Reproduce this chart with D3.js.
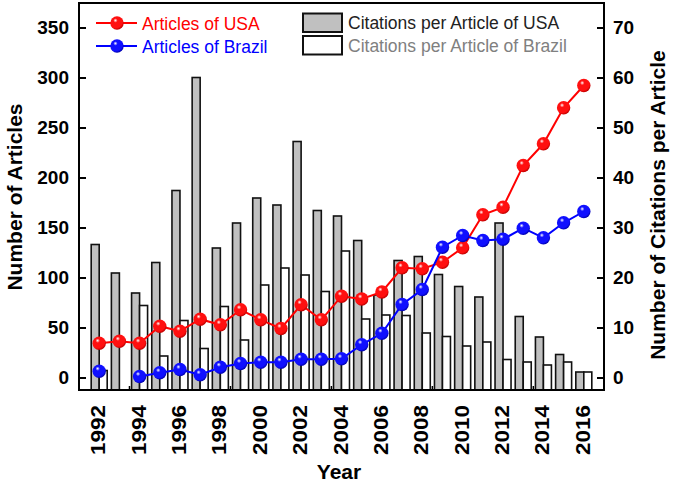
<!DOCTYPE html>
<html><head><meta charset="utf-8">
<script src="https://cdn.jsdelivr.net/npm/d3@7"></script>
<style>
body{margin:0;background:#fff;}
svg{display:block;font-family:"Liberation Sans",Arial,sans-serif;}
</style></head>
<body><svg id="chart" width="673" height="483"></svg>
<script>
const years = [1992,1993,1994,1995,1996,1997,1998,1999,2000,2001,2002,2003,2004,2005,2006,2007,2008,2009,2010,2011,2012,2013,2014,2015,2016];
const articlesUSA = [34.3,36.3,34.3,51.3,46.3,58.3,52.7,67.7,57.7,49,72.7,57.7,81.3,78.5,85.5,109.7,108.7,115.3,129.7,162.7,170.3,212,233.7,269.7,292];
const articlesBrazil = [6.3,null,1,4.7,8,2.7,10.3,14,15.3,15.3,18.3,18.3,18.7,32.8,44.2,73,88,130.3,142,137,138.3,149.3,139.7,154.7,166];
const citationsUSA = [26.6,20.9,16.9,23.0,37.4,60.0,25.9,30.9,35.9,34.5,47.2,33.4,32.3,27.4,16.5,23.4,24.2,20.6,18.2,16.1,30.9,12.2,8.1,4.6,1.1];
const citationsBrazil = [1.4,null,14.4,4.3,11.4,5.8,14.2,7.5,18.5,21.9,20.5,17.2,25.3,11.7,12.5,12.4,8.9,8.2,6.3,7.1,3.6,3.1,2.5,3.1,1.1];
const xTickYears = [1992,1994,1996,1998,2000,2002,2004,2006,2008,2010,2012,2014,2016];
const xInnerTicks = [1993.5,1998.5,2003.5,2008.5,2013.5];
const leftTicks = [0,50,100,150,200,250,300,350];
const rightTicks = [0,10,20,30,40,50,60,70];

const svg = d3.select("#chart");
const L = 79, R = 604, T = 3, B = 390;
const x = d3.scaleLinear().domain([1991, 2017]).range([L, R]);
const yL = d3.scaleLinear().domain([-12.5, 374.5]).range([B, T]);
const yR = d3.scaleLinear().domain([-2.5, 74.9]).range([B, T]);

const defs = svg.append("defs");
function ball(id, base, dark){
  const g = defs.append("radialGradient").attr("id", id).attr("cx","40%").attr("cy","35%").attr("r","65%").attr("fx","38%").attr("fy","30%");
  g.append("stop").attr("offset","0%").attr("stop-color","#ffffff");
  g.append("stop").attr("offset","25%").attr("stop-color",base);
  g.append("stop").attr("offset","80%").attr("stop-color",base);
  g.append("stop").attr("offset","100%").attr("stop-color",dark);
}
ball("ballRed","#ff1010","#c00000");
ball("ballBlue","#1010ff","#0000b0");

const bw = 8;
svg.append("g").selectAll("rect").data(years.map((yr,i)=>({yr,v:citationsUSA[i]})).filter(d=>d.v!=null))
  .join("rect")
  .attr("x", d=>x(d.yr)-bw).attr("width", bw)
  .attr("y", d=>yR(d.v)).attr("height", d=>B - yR(d.v))
  .attr("fill","#c0c0c0").attr("stroke","#111").attr("stroke-width",1.6);
svg.append("g").selectAll("rect").data(years.map((yr,i)=>({yr,v:citationsBrazil[i]})).filter(d=>d.v!=null))
  .join("rect")
  .attr("x", d=>x(d.yr)).attr("width", bw)
  .attr("y", d=>yR(d.v)).attr("height", d=>B - yR(d.v))
  .attr("fill","#ffffff").attr("stroke","#111").attr("stroke-width",1.6);

function series(vals, color, grad){
  const data = years.map((yr,i)=>({yr,v:vals[i]}));
  const line = d3.line().defined(d=>d.v!=null).x(d=>x(d.yr)).y(d=>yL(d.v));
  svg.append("path").datum(data).attr("d", line).attr("fill","none").attr("stroke",color).attr("stroke-width",2);
  svg.append("g").selectAll("circle").data(data.filter(d=>d.v!=null)).join("circle")
    .attr("cx", d=>x(d.yr)).attr("cy", d=>yL(d.v)).attr("r", 6.7)
    .attr("fill", `url(#${grad})`);
}
series(articlesUSA, "#ff0000", "ballRed");
series(articlesBrazil, "#0000ff", "ballBlue");

svg.append("rect").attr("x",L).attr("y",T).attr("width",R-L).attr("height",B-T)
  .attr("fill","none").attr("stroke","#000").attr("stroke-width",2);

const axL = d3.axisLeft(yL).tickValues(leftTicks).tickSize(-7).tickPadding(10);
const gL = svg.append("g").attr("transform",`translate(${L},0)`).call(axL);
gL.select(".domain").remove();
gL.selectAll("line").attr("stroke","#000").attr("stroke-width",2);
gL.selectAll("text").attr("font-size",19).attr("font-weight","bold").attr("fill","#000");

const axR = d3.axisRight(yR).tickValues(rightTicks).tickSize(-7).tickPadding(9);
const gR = svg.append("g").attr("transform",`translate(${R},0)`).call(axR);
gR.select(".domain").remove();
gR.selectAll("line").attr("stroke","#000").attr("stroke-width",2);
gR.selectAll("text").attr("font-size",19).attr("font-weight","bold").attr("fill","#000");

svg.append("g").selectAll("line").data(xInnerTicks).join("line")
  .attr("x1",d=>x(d)).attr("x2",d=>x(d)).attr("y1",B).attr("y2",B-4)
  .attr("stroke","#000").attr("stroke-width",1.5);

svg.append("g").selectAll("text").data(xTickYears).join("text")
  .attr("transform", d=>`translate(${x(d)+6},405) rotate(-90)`)
  .attr("text-anchor","end").attr("font-size",19.5).attr("font-weight","bold")
  .attr("textLength",50).attr("lengthAdjust","spacingAndGlyphs")
  .text(d=>d);

svg.append("text").attr("transform","translate(22,197) rotate(-90)").attr("text-anchor","middle")
  .attr("font-size",21).attr("font-weight","bold").text("Number of Articles");
svg.append("text").attr("transform","translate(665,205) rotate(-90)").attr("text-anchor","middle")
  .attr("font-size",21).attr("font-weight","bold").text("Number of Citations per Article");
svg.append("text").attr("x",339).attr("y",479).attr("text-anchor","middle")
  .attr("font-size",21).attr("font-weight","bold").text("Year");

const leg = svg.append("g");
[["Articles of USA","#ff0000","ballRed",23],["Articles of Brazil","#0000ff","ballBlue",46]].forEach(([t,c,g,yy])=>{
  leg.append("line").attr("x1",96).attr("x2",137).attr("y1",yy).attr("y2",yy).attr("stroke",c).attr("stroke-width",2);
  leg.append("circle").attr("cx",117).attr("cy",yy).attr("r",6.7).attr("fill",`url(#${g})`);
  leg.append("text").attr("x",142).attr("y",yy+6.5).attr("font-size",17.5).attr("fill",c).text(t);
});
[["Citations per Article of USA","#c0c0c0","#222",13.5],["Citations per Article of Brazil","#ffffff","#808080",36]].forEach(([t,f,tc,yy])=>{
  leg.append("rect").attr("x",303).attr("y",yy).attr("width",39).attr("height",18.5).attr("fill",f).attr("stroke","#111").attr("stroke-width",2);
  leg.append("text").attr("x",348).attr("y",yy+15.5).attr("font-size",17.5).attr("fill",tc).text(t);
});
</script></body></html>
